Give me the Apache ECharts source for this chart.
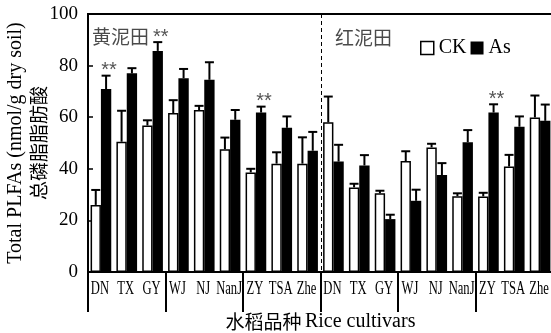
<!DOCTYPE html>
<html>
<head>
<meta charset="utf-8">
<script src="https://cdn.jsdelivr.net/npm/echarts@6/dist/echarts.min.js"></script>
<style>
  html, body { margin: 0; padding: 0; background: #fff; }
  #chart { width: 551px; height: 333px; }
</style>
</head>
<body>
<div id="chart"></div>
<script>
// Rice cultivars, grown in yellow clayey paddy (first nine) and red clayey paddy (last nine)
const cultivars = ['DN', 'TX', 'GY', 'WJ', 'NJ', 'NanJ', 'ZY', 'TSA', 'Zhe'];
const categories = cultivars.concat(cultivars);

// Total PLFAs (nmol/g dry soil), control
const ckMean = [26, 50.5, 56.8, 61.6, 62.8, 47.6, 38.6, 42, 42,
                58, 32.8, 30.5, 43, 48.3, 29.4, 29.3, 40.9, 59.9];
const ckErr  = [5.8, 12, 2, 5, 1.6, 4.5, 1.4, 4.4, 10.2,
                10, 1.4, 1, 3.8, 1.4, 1.1, 1.4, 4.5, 8.5];

// Total PLFAs (nmol/g dry soil), arsenic treatment
const asMean = [70.9, 77, 85.7, 75.1, 74.5, 59, 61.8, 55.9, 47,
                42.8, 41.3, 20.5, 27.6, 37.6, 50.3, 61.8, 56.3, 58.6];
const asErr  = [5.2, 2, 3.4, 3.6, 6.8, 3.8, 2.3, 4.4, 7.3,
                6.5, 4, 1.7, 4.3, 4.6, 4.7, 3.2, 4, 6.3];

// significance markers for the arsenic treatment
const asSig = ['**', '', '**', '', '', '', '**', '', '',
               '', '', '', '', '', '', '**', '', ''];

const yTicks = { min: 0, max: 100, interval: 20 };
const soilNames = ['黄泥田', '红泥田'];

const SERIF = '"Liberation Serif", "Times New Roman", serif';
const CJK = '"Noto Sans CJK SC", sans-serif';

const chart = echarts.init(document.getElementById('chart'), null, { renderer: 'canvas' });

// error bar (upper half only) drawn at the centre of each bar
function errorRenderer(side, marks) {
  return function (params, api) {
    const i = api.value(0);
    const v = api.value(1);
    const e = api.value(2);
    const band = api.size([1, 0])[0];
    const bw = band * 0.8 / 2;
    const cx = api.coord([i, 0])[0] + side * bw / 2;
    const yb = api.coord([i, v])[1];
    const yt = api.coord([i, v + e])[1];
    const children = [
      { type: 'line', shape: { x1: cx, y1: yb, x2: cx, y2: yt },
        style: { stroke: '#000', lineWidth: 2 } },
      { type: 'line', shape: { x1: cx - 4.5, y1: yt, x2: cx + 4.5, y2: yt },
        style: { stroke: '#000', lineWidth: 2 } }
    ];
    const m = marks ? marks[params.dataIndex] : '';
    if (m) {
      children.push({ type: 'text',
        style: { x: cx + 3, y: yt - 5, text: m, fill: '#555',
                 font: '20px "Liberation Sans", sans-serif',
                 align: 'center', verticalAlign: 'middle' } });
    }
    return { type: 'group', children: children };
  };
}

const option = {
  animation: false,
  backgroundColor: '#fff',
  grid: { left: 88, top: 14, width: 465, height: 258,
          containLabel: false, outerBoundsMode: 'none',
          show: true, borderColor: '#000', borderWidth: 2 },
  legend: {
    left: 420, top: 38, padding: 0,
    itemWidth: 13, itemHeight: 13, itemGap: 4,
    textStyle: { fontFamily: SERIF, fontSize: 20, color: '#000', padding: [2, 0, 0, 0] },
    data: [
      { name: 'CK', icon: 'rect', itemStyle: { color: '#fff', borderColor: '#000', borderWidth: 1.5 } },
      { name: 'As', icon: 'rect', itemStyle: { color: '#000' } }
    ]
  },
  xAxis: {
    type: 'category',
    data: categories,
    name: '{a|水稻品种} {b|Rice cultivars}',
    nameLocation: 'middle',
    nameGap: 40,
    nameMoveOverlap: false,
    nameTextStyle: {
      rich: {
        a: { fontFamily: CJK, fontSize: 19, color: '#000' },
        b: { fontFamily: SERIF, fontSize: 20, color: '#000' }
      }
    },
    axisLine: { show: true, lineStyle: { color: '#000', width: 2 } },
    axisTick: { show: true, length: 40, interval: function (i) { return i % 3 === 0; },
                lineStyle: { color: '#000', width: 2 } },
    axisLabel: { show: false },
    splitLine: { show: false }
  },
  yAxis: {
    type: 'value',
    min: yTicks.min, max: yTicks.max, interval: yTicks.interval,
    name: '{a|Total PLFAs (nmol/g dry soil)}\n{b|总磷脂脂肪酸}',
    nameLocation: 'middle',
    nameRotate: 90,
    nameGap: 38,
    nameMoveOverlap: false,
    nameTextStyle: {
      rich: {
        a: { fontFamily: SERIF, fontSize: 20, color: '#000', lineHeight: 23 },
        b: { fontFamily: CJK, fontSize: 19, color: '#000', lineHeight: 23 }
      }
    },
    axisLine: { show: true, lineStyle: { color: '#000', width: 2 } },
    axisTick: { show: true, inside: true, length: 5, lineStyle: { color: '#000', width: 1.5 } },
    axisLabel: { fontFamily: SERIF, fontSize: 19, color: '#000', margin: 10 },
    splitLine: { show: false }
  },
  series: [
    { name: 'CK', type: 'bar', data: ckMean, barGap: '0%', barCategoryGap: '20%',
      itemStyle: { color: '#fff', borderColor: '#000', borderWidth: 1.5 } },
    { name: 'As', type: 'bar', data: asMean, barGap: '0%', barCategoryGap: '20%',
      itemStyle: { color: '#000' } },
    { name: 'CK err', type: 'custom', clip: false, z: 5,
      data: ckMean.map(function (v, i) { return [i, v, ckErr[i]]; }),
      renderItem: errorRenderer(-1, null) },
    { name: 'As err', type: 'custom', clip: false, z: 5,
      data: asMean.map(function (v, i) { return [i, v, asErr[i]]; }),
      renderItem: errorRenderer(1, asSig) }
  ]
};

chart.setOption(option);

// narrow category labels under each bar pair, the soil divider and the soil-type captions
const px = function (i) { return chart.convertToPixel({ xAxisIndex: 0 }, i); };
const py = function (v) { return chart.convertToPixel({ yAxisIndex: 0 }, v); };
const graphics = categories.map(function (c, i) {
  return {
    type: 'text', x: px(i) - 1, y: 289, scaleX: 0.7, silent: true,
    style: { text: c, font: '18px ' + SERIF, fill: '#000', align: 'center', verticalAlign: 'middle' }
  };
});
const divX = Math.round((px(cultivars.length - 1) + px(cultivars.length)) / 2) + 0.5;
graphics.push({ type: 'line', silent: true, z: 10,
  shape: { x1: divX, y1: py(yTicks.max), x2: divX, y2: py(yTicks.min) },
  style: { stroke: '#000', lineWidth: 1, lineDash: [4, 3] } });
graphics.push({ type: 'text', left: 92, top: 27, silent: true,
  style: { text: soilNames[0], font: '19px ' + CJK, fill: '#4a4a4a' } });
graphics.push({ type: 'text', left: 335, top: 28, silent: true,
  style: { text: soilNames[1], font: '19px ' + CJK, fill: '#4a4a4a' } });
chart.setOption({ graphic: graphics });
</script>
</body>
</html>
